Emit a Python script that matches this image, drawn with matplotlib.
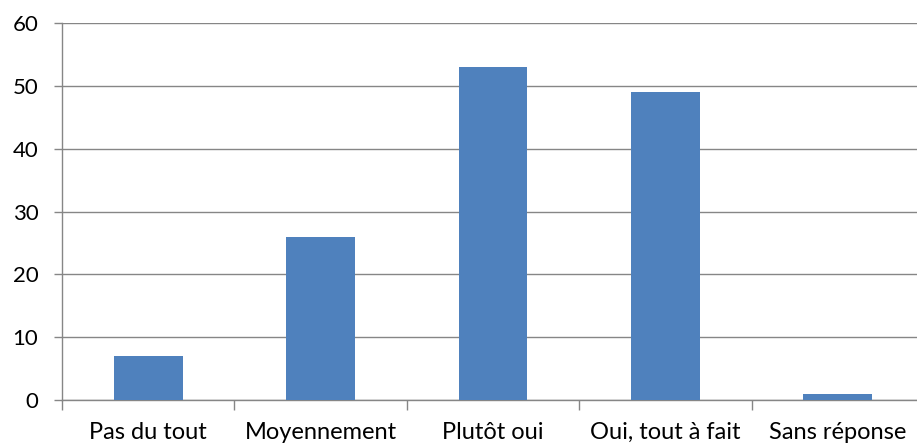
import matplotlib
matplotlib.use("Agg")
import matplotlib.pyplot as plt
import numpy as np

categories = ["Pas du tout", "Moyennement", "Plutôt oui", "Oui, tout à fait", "Sans réponse"]
values = [7, 26, 53, 49, 1]
yticks = [0, 10, 20, 30, 40, 50, 60]

plt.rcParams["font.family"] = ["Lato", "DejaVu Sans"]

fig = plt.figure(figsize=(9.17, 4.48), dpi=100)
# the plot runs a little past the right edge of the picture
ax = fig.add_axes([62 / 917, 48 / 448, 862 / 917, 377 / 448])

x = np.arange(len(categories))
ax.bar(x, values, width=0.4, color="#4F81BD", zorder=3)

ax.set_xlim(-0.5, len(categories) - 0.5)
ax.set_ylim(0, 60)
ax.set_yticks(yticks)
ax.set_yticklabels([str(v) for v in yticks], fontsize=16)
ax.yaxis.grid(True, color="#868686", linewidth=1.0, zorder=0)

# category ticks sit between the bars
ax.set_xticks(np.arange(len(categories) + 1) - 0.5)
ax.set_xticklabels([])
ax.set_xticks(x, minor=True)
ax.set_xticklabels(categories, minor=True, fontsize=17)
ax.tick_params(axis="x", which="major", length=7, color="#868686", width=1)
ax.tick_params(axis="x", which="minor", length=0, pad=16)
ax.tick_params(axis="y", length=6, color="#868686", width=1, pad=11)

for s in ["top", "right"]:
    ax.spines[s].set_visible(False)
for s in ["left", "bottom"]:
    ax.spines[s].set_color("#868686")
    ax.spines[s].set_linewidth(1.0)

fig.savefig("out.png", dpi=100)
